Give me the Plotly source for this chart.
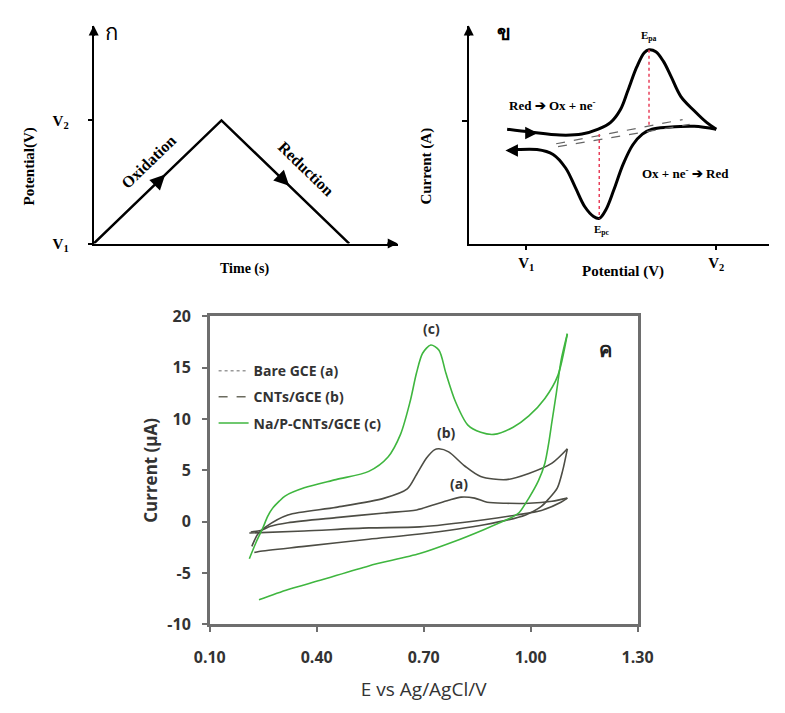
import plotly.graph_objects as go

W, H = 785, 713

def px(x):
    return x / W

def py(y):
    return 1 - y / H

# ---------------- Panel ก : potential waveform ----------------
wave_time = [0, 1, 2]
wave_potential = [0, 1, 0]

# ---------------- Panel ข : schematic CV ----------------
cv_fwd_E = [-0.101, 0.025, 0.177, 0.293, 0.379, 0.444, 0.495, 0.535, 0.581, 0.621,
            0.646, 0.682, 0.722, 0.763, 0.813, 0.884, 0.949, 1.0]
cv_fwd_I = [-0.09, -0.12, -0.15, -0.14, -0.09, -0.02, 0.11, 0.31, 0.55, 0.70,
            0.73, 0.71, 0.61, 0.45, 0.25, 0.10, -0.02, -0.09]
cv_rev_E = [1.0, 0.884, 0.747, 0.662, 0.611, 0.561, 0.510, 0.460, 0.419, 0.384,
            0.354, 0.308, 0.258, 0.207, 0.141, 0.056, -0.045, -0.096]
cv_rev_I = [-0.09, -0.06, -0.07, -0.09, -0.14, -0.25, -0.45, -0.72, -0.92, -1.01,
            -0.99, -0.89, -0.69, -0.49, -0.35, -0.30, -0.30, -0.31]
base1_E, base1_I = [0.157, 0.823], [-0.24, 0.01]
base2_E, base2_I = [0.167, 0.860], [-0.27, -0.04]
Epa_E, Epa_I = [0.646, 0.646], [0.73, -0.05]
Epc_E, Epc_I = [0.384, 0.384], [-0.14, -1.01]

# ---------------- Panel ค : measured CVs ----------------
a_fwd_E = [0.215, 0.243, 0.27, 0.319, 0.454, 0.59, 0.68, 0.724, 0.77, 0.805, 0.843,
           0.878, 0.932, 0.995, 1.06, 1.103]
a_fwd_I = [-1.0, -0.85, -0.45, -0.1, 0.4, 0.85, 1.15, 1.6, 2.1, 2.4, 2.3,
           1.9, 1.8, 1.8, 2.0, 2.3]
a_rev_E = [1.103, 1.085, 1.03, 0.96, 0.87, 0.689, 0.546, 0.365, 0.211]
a_rev_I = [2.3, 1.9, 1.1, 0.66, 0.2, -0.5, -0.6, -0.9, -1.1]

b_fwd_E = [0.218, 0.235, 0.257, 0.319, 0.454, 0.59, 0.654, 0.68, 0.708, 0.73, 0.743,
           0.77, 0.816, 0.86, 0.932, 0.995, 1.06, 1.103]
b_fwd_I = [-2.4, -1.2, -0.5, 0.66, 1.4, 2.3, 3.2, 4.6, 6.2, 7.0, 7.1,
           6.8, 5.4, 4.4, 4.1, 4.7, 5.7, 7.1]
b_rev_E = [1.103, 1.09, 1.075, 1.05, 1.03, 0.986, 0.87, 0.689, 0.546, 0.365, 0.238, 0.225]
b_rev_I = [7.1, 5.0, 3.3, 2.2, 1.5, 0.66, -0.3, -1.2, -1.7, -2.4, -2.9, -3.0]

c_fwd_E = [0.211, 0.23, 0.249, 0.262, 0.276, 0.295, 0.311, 0.365, 0.454, 0.546, 0.60,
           0.635, 0.662, 0.68, 0.697, 0.72, 0.743, 0.762, 0.789, 0.824, 0.86, 0.897,
           0.951, 0.995, 1.04, 1.076, 1.103]
c_fwd_I = [-3.6, -2.0, -0.6, 0.5, 1.3, 2.0, 2.5, 3.3, 4.1, 4.9, 6.3,
           8.5, 11.7, 14.5, 16.4, 17.2, 16.7, 14.5, 11.7, 9.4, 8.7, 8.5,
           9.2, 10.3, 12.0, 14.2, 18.3]
c_rev_E = [1.103, 1.086, 1.072, 1.06, 1.05, 1.04, 1.022, 0.995, 0.968, 0.951, 0.87,
           0.78, 0.689, 0.546, 0.41, 0.32, 0.238]
c_rev_I = [18.3, 15.8, 12.5, 9.8, 7.5, 5.7, 4.0, 2.3, 0.9, 0.5, -0.75,
           -2.0, -3.1, -4.3, -5.7, -6.6, -7.6]

series_names = ["Bare GCE (a)", "CNTs/GCE (b)", "Na/P-CNTs/GCE (c)"]
x3_ticks = [0.10, 0.40, 0.70, 1.00, 1.30]
x3_labels = ["0.10", "0.40", "0.70", "1.00", "1.30"]
y3_ticks = [-10, -5, 0, 5, 10, 15, 20]
y3_labels = ["-10", "-5", "0", "5", "10", "15", "20"]

GREEN = "#3fb63f"
GRAY = "#4d4d45"
SERIF = "Liberation Serif"
SANS = "Open Sans"

fig = go.Figure()

# panel 1
fig.add_trace(go.Scatter(x=wave_time, y=wave_potential, mode="lines",
                         line=dict(color="black", width=2.5), xaxis="x", yaxis="y",
                         showlegend=False, hoverinfo="skip"))

# panel 2
for E, I in [(cv_fwd_E, cv_fwd_I), (cv_rev_E, cv_rev_I)]:
    fig.add_trace(go.Scatter(x=E, y=I, mode="lines", line=dict(color="black", width=3, shape="spline"),
                             xaxis="x2", yaxis="y2", showlegend=False, hoverinfo="skip"))
for E, I in [(base1_E, base1_I), (base2_E, base2_I)]:
    fig.add_trace(go.Scatter(x=E, y=I, mode="lines", line=dict(color="#666", width=1.2, dash="dash"),
                             xaxis="x2", yaxis="y2", showlegend=False, hoverinfo="skip"))
for E, I in [(Epa_E, Epa_I), (Epc_E, Epc_I)]:
    fig.add_trace(go.Scatter(x=E, y=I, mode="lines", line=dict(color="#e8405a", width=1.5, dash="dot"),
                             xaxis="x2", yaxis="y2", showlegend=False, hoverinfo="skip"))

# panel 3
for E, I, col in [(a_fwd_E, a_fwd_I, GRAY), (a_rev_E, a_rev_I, GRAY),
                  (b_fwd_E, b_fwd_I, GRAY), (b_rev_E, b_rev_I, GRAY),
                  (c_fwd_E, c_fwd_I, GREEN), (c_rev_E, c_rev_I, GREEN)]:
    fig.add_trace(go.Scatter(x=E, y=I, mode="lines", line=dict(color=col, width=1.6, shape="spline", smoothing=0.8),
                             xaxis="x3", yaxis="y3", showlegend=False, hoverinfo="skip"))

legend_styles = [("#9a9a9a", "dot"), ("#6b6b5e", "dash"), (GREEN, "solid")]
for i, (name, (col, dash)) in enumerate(zip(series_names, legend_styles)):
    fig.add_trace(go.Scatter(x=[None], y=[None], mode="lines", name=f"<b>{name}</b>",
                             line=dict(color=col, width=1.5, dash=dash),
                             xaxis="x3", yaxis="y3", legendgroup=f"g{i}"))

ann = []
def A(**kw):
    kw.setdefault("xanchor", "center")
    kw.setdefault("yanchor", "middle")
    ann.append(kw)

# panel 1 annotations
A(x=0, y=1.77, xref="x", yref="y", ax=0, ay=12, showarrow=True, arrowhead=2, arrowsize=1,
  arrowwidth=2, arrowcolor="black", text="")
A(x=2.38, y=0, xref="x", yref="y", ax=-12, ay=0, showarrow=True, arrowhead=2, arrowsize=1,
  arrowwidth=2, arrowcolor="black", text="")
A(x=0.56, y=0.56, xref="x", yref="y", ax=-8, ay=8, showarrow=True, arrowhead=2, arrowsize=1.2,
  arrowwidth=2.5, arrowcolor="black", text="")
A(x=1.53, y=0.47, xref="x", yref="y", ax=-8, ay=-8, showarrow=True, arrowhead=2, arrowsize=1.2,
  arrowwidth=2.5, arrowcolor="black", text="")
A(x=0.43, y=0.67, xref="x", yref="y", text="<b>Oxidation</b>", textangle=-44, showarrow=False,
  font=dict(family=SERIF, size=16, color="black"))
A(x=1.66, y=0.61, xref="x", yref="y", text="<b>Reduction</b>", textangle=44, showarrow=False,
  font=dict(family=SERIF, size=16, color="black"))
A(x=px(14), y=py(160), xref="paper", yref="paper", text="<b>Potential(V)</b>",
  textangle=-90, showarrow=False, font=dict(family=SERIF, size=15, color="black"))
A(x=px(238), y=py(266), xref="paper", yref="paper", text="<b>Time (s)</b>", showarrow=False,
  font=dict(family=SERIF, size=14, color="black"))
A(x=px(100), y=py(21), xref="paper", yref="paper", text="ก", showarrow=False,
  font=dict(family="Noto Sans", size=22, color="black"))

# panel 2 annotations
A(x=(472 - 532) / 198, y=0.98, xref="x2", yref="y2", ax=0, ay=12, showarrow=True,
  arrowhead=2, arrowsize=1, arrowwidth=2, arrowcolor="black", text="")
A(x=1.278, y=-1.27, xref="x2", yref="y2", ax=-12, ay=0, showarrow=True,
  arrowhead=2, arrowsize=1, arrowwidth=2, arrowcolor="black", text="")
A(x=0.06, y=-0.13, xref="x2", yref="y2", ax=-8, ay=0, showarrow=True, arrowhead=2, arrowsize=1,
  arrowwidth=2.5, arrowcolor="black", text="")
A(x=-0.11, y=-0.31, xref="x2", yref="y2", ax=8, ay=0, showarrow=True, arrowhead=2, arrowsize=1,
  arrowwidth=2.5, arrowcolor="black", text="")
A(x=0.646, y=0.87, xref="x2", yref="y2", text="<b>E<sub>pa</sub></b>", showarrow=False,
  font=dict(family=SERIF, size=11, color="black"))
A(x=0.40, y=-1.13, xref="x2", yref="y2", text="<b>E<sub>pc</sub></b>", showarrow=False,
  font=dict(family=SERIF, size=11, color="black"))
A(x=0.136, y=0.16, xref="x2", yref="y2", text="<b>Red ➔ Ox + ne<sup>-</sup></b>", showarrow=False,
  font=dict(family=SERIF, size=13, color="black"))
A(x=0.84, y=-0.54, xref="x2", yref="y2", text="<b>Ox + ne<sup>-</sup> ➔ Red</b>", showarrow=False,
  font=dict(family=SERIF, size=13, color="black"))
A(x=px(428), y=py(160), xref="paper", yref="paper", text="<b>Current (A)</b>", textangle=-90,
  showarrow=False, font=dict(family=SERIF, size=15, color="black"))
A(x=px(633), y=py(269), xref="paper", yref="paper", text="<b>Potential (V)</b>", showarrow=False,
  font=dict(family=SERIF, size=15, color="black"))
A(x=px(509), y=py(22), xref="paper", yref="paper", text="<b>ข</b>", showarrow=False,
  font=dict(family="Noto Sans", size=20, color="black"))

# panel 3 annotations
lab_font = dict(family=SANS, size=14, color="#333")
A(x=0.723, y=18.8, xref="x3", yref="y3", text="<b>(c)</b>", showarrow=False, font=lab_font)
A(x=0.763, y=8.7, xref="x3", yref="y3", text="<b>(b)</b>", showarrow=False, font=lab_font)
A(x=0.798, y=3.7, xref="x3", yref="y3", text="<b>(a)</b>", showarrow=False, font=lab_font)
A(x=1.211, y=16.8, xref="x3", yref="y3", text="<b>ค</b>", showarrow=False,
  font=dict(family="Noto Sans", size=20, color="#222"))

fig.update_layout(
    width=W, height=H, margin=dict(l=0, r=0, t=0, b=0),
    paper_bgcolor="white", plot_bgcolor="white",
    annotations=ann,
    showlegend=True,
    legend=dict(x=px(206), y=py(355), xanchor="left", yanchor="top", bgcolor="rgba(0,0,0,0)",
                font=dict(family=SANS, size=14, color="#333"),
                tracegroupgap=5, itemwidth=30),
    xaxis=dict(domain=[px(81), px(398)], range=[0, 2.38], anchor="y", showline=True,
               linecolor="black", linewidth=2, showgrid=False, zeroline=False,
               showticklabels=False, ticks=""),
    yaxis=dict(domain=[py(240), py(15)], range=[0, 1.77], anchor="x", showline=True,
               linecolor="black", linewidth=2, showgrid=False, zeroline=False,
               tickvals=[0, 1], ticktext=["<b>V<sub>1</sub></b>", "<b>V<sub>2</sub></b>"],
               ticks="outside", ticklen=4, tickwidth=1.5, tickcolor="black",
               ticklabelstandoff=16, tickfont=dict(family=SERIF, size=15, color="black")),
    xaxis2=dict(domain=[px(472), 1.0], range=[(472 - 532) / 198, (785 - 532) / 198], anchor="y2",
                showline=True, linecolor="black", linewidth=2, showgrid=False, zeroline=False,
                tickvals=[0, 1], ticktext=["<b>V<sub>1</sub></b>", "<b>V<sub>2</sub></b>"],
                ticks="outside", ticklen=4, tickwidth=1.5, tickcolor="black",
                ticklabelstandoff=0, tickfont=dict(family=SERIF, size=15, color="black")),
    yaxis2=dict(domain=[py(240), py(15)], range=[(113 - 240) / 100, (113 - 15) / 100], anchor="x2",
                showline=True, linecolor="black", linewidth=2, showgrid=False, zeroline=False,
                tickvals=[0], showticklabels=False, ticks="outside", ticklen=5, tickwidth=1.5,
                tickcolor="black"),
    xaxis3=dict(domain=[px(202), px(648)], range=[0.10, 1.30], anchor="y3",
                showline=True, mirror=True, linecolor="#6e6e6e", linewidth=2.5,
                showgrid=False, zeroline=False, tickvals=x3_ticks,
                ticktext=[f"<b>{t}</b>" for t in x3_labels],
                ticks="outside", ticklen=5, tickwidth=2, tickcolor="#6e6e6e",
                ticklabelstandoff=12,
                tickfont=dict(family=SANS, size=16, color="#333"),
                title=dict(text="E vs Ag/AgCl/V", standoff=16,
                           font=dict(family=SANS, size=19, color="#333"))),
    yaxis3=dict(domain=[py(633), py(315)], range=[-10, 20], anchor="x3",
                showline=True, mirror=True, linecolor="#6e6e6e", linewidth=2.5,
                showgrid=False, zeroline=False, tickvals=y3_ticks,
                ticktext=[f"<b>{t}</b>" for t in y3_labels],
                ticks="outside", ticklen=5, tickwidth=2, tickcolor="#6e6e6e",
                ticklabelstandoff=8,
                tickfont=dict(family=SANS, size=16, color="#333"),
                title=dict(text="<b>Current (µA)</b>", standoff=6,
                           font=dict(family=SANS, size=17, color="#333"))),
)

fig.write_html("out.html")
